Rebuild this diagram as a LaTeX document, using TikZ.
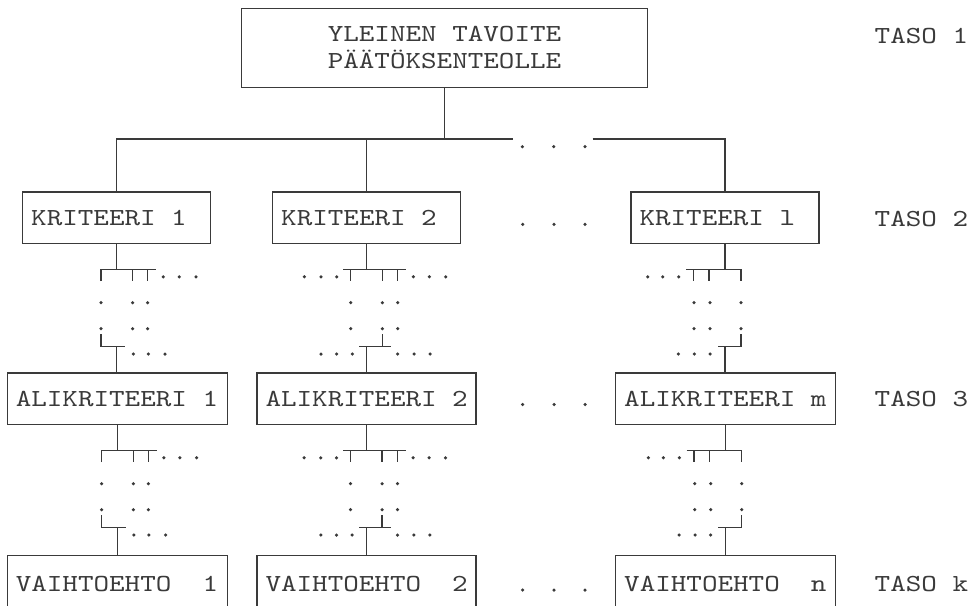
\documentclass[tikz,border=0pt]{standalone}
\usepackage{fontspec}
% typewriter face, widened to a Courier-like pitch
\newfontfamily\typefont{lmmono10-regular.otf}[FakeStretch=1.21]
\definecolor{ink}{HTML}{3A3A3A}

\tikzset{
  wire/.style={draw=ink, line width=1.25pt},
  basebox/.style={draw=ink, line width=1.25pt, text=ink, inner sep=0pt,
    outer sep=0pt, anchor=north west,
    font=\typefont\fontsize{24.5}{26.7}\selectfont},
  levelbox/.style={basebox, text height=16pt, text depth=0pt},
  tasolabel/.style={text=ink, inner sep=0pt, anchor=base west,
    font=\typefont\fontsize{24.5}{26.7}\selectfont},
}

% left-aligned box text of a fixed width
\newcommand\boxtext[2]{\makebox[#1pt][l]{\hspace{8.5pt}#2}}
\newcommand\dotat[2]{\fill[ink] (#1,#2) circle (1.75pt);}

% branching between two levels, first column: branches go to the right
\newcommand\linkfirst[2]{%
  \begin{scope}[shift={(#1.south)}]
    \coordinate (#1-bus) at (0,26.2);
    \coordinate (#1-j) at (0,103.3);
    \draw[wire] (-15.7,37.5) -- (-15.7,26.2) -- (39.3,26.2);
    \draw[wire] (16,26.2) -- (16,37.5);
    \draw[wire] (31,26.2) -- (31,37.5);
    \foreach \x in {46.6,62.6,79.3} {\dotat{\x}{33.3}}
    \foreach \x in {-15.7,16,31} {\dotat{\x}{59.2}\dotat{\x}{85.2}}
    \draw[wire] (-15.7,90.5) -- (-15.7,103.3) -- (8.3,103.3);
    \foreach \x in {16.6,31.6,48.3} {\dotat{\x}{110.5}}
  \end{scope}
  \draw[wire] (#1.south) -- (#1-bus);
  \draw[wire] (#1-j) -- (#1-j |- #2.north);}

% middle column: branches on both sides
\newcommand\linkmiddle[2]{%
  \begin{scope}[shift={(#1.south)}]
    \coordinate (#1-bus) at (0,26.2);
    \coordinate (#1-j) at (0,103.3);
    \draw[wire] (-23.4,26.2) -- (39,26.2);
    \foreach \x in {-16,15.6,31} {\draw[wire] (\x,26.2) -- (\x,37.5);}
    \foreach \x in {-62.4,-45.7,-30,46.6,62.6,79} {\dotat{\x}{33.3}}
    \foreach \x in {-16,15.6,31} {\dotat{\x}{59.2}\dotat{\x}{85.2}}
    \draw[wire] (15.6,90.5) -- (15.6,103.3);
    \draw[wire] (-7.4,103.3) -- (24,103.3);
    \foreach \x in {-45.7,-30,-14.4,31,47.3,63.3} {\dotat{\x}{110.5}}
  \end{scope}
  \draw[wire] (#1.south) -- (#1-bus);
  \draw[wire] (#1-j) -- (#1-j |- #2.north);}

% last column: branches go to the left
\newcommand\linklast[2]{%
  \begin{scope}[shift={(#1.south)}]
    \coordinate (#1-bus) at (0,26.2);
    \coordinate (#1-j) at (0,103.3);
    \draw[wire] (-39,26.2) -- (16,26.2) -- (16,37.5);
    \draw[wire] (-31.7,26.2) -- (-31.7,37.5);
    \draw[wire] (-16,26.2) -- (-16,37.5);
    \foreach \x in {-77.3,-62.3,-46.3} {\dotat{\x}{33.3}}
    \foreach \x in {-31,-15,16} {\dotat{\x}{59.2}\dotat{\x}{85.2}}
    \draw[wire] (16,90.5) -- (16,103.3) -- (-7.3,103.3);
    \foreach \x in {-46.7,-30.7,-15} {\dotat{\x}{110.5}}
  \end{scope}
  \draw[wire] (#1.south) -- (#1-bus);
  \draw[wire] (#1-j) -- (#1-j |- #2.north);}

\begin{document}
\begin{tikzpicture}[x=1pt, y=-1pt]
  \useasboundingbox (0,0) rectangle (977,605);
  \clip (0,0) rectangle (977,605);
  \fill[white] (0,0) rectangle (977,605);

  % level 1
  \node[basebox, minimum width=405.6pt, minimum height=79pt, align=center]
    (top) at (241.7,8.3) {YLEINEN TAVOITE\\PÄÄTÖKSENTEOLLE};

  % level 2
  \node[levelbox, minimum width=188pt, minimum height=51.5pt] (k1) at (22.7,192) {\boxtext{188}{KRITEERI 1}};
  \node[levelbox, minimum width=188pt, minimum height=51.5pt] (k2) at (272.7,192) {\boxtext{188}{KRITEERI 2}};
  \node[levelbox, minimum width=188pt, minimum height=51.5pt] (kl) at (631,192) {\boxtext{188}{KRITEERI l}};

  % level 3
  \node[levelbox, minimum width=220pt, minimum height=51.5pt] (a1) at (7.3,373) {\boxtext{220}{ALIKRITEERI 1}};
  \node[levelbox, minimum width=219pt, minimum height=51.5pt] (a2) at (257,373) {\boxtext{219}{ALIKRITEERI 2}};
  \node[levelbox, minimum width=220pt, minimum height=51.5pt] (am) at (615.7,373) {\boxtext{220}{ALIKRITEERI m}};

  % level k
  \node[levelbox, minimum width=220pt, minimum height=56pt] (v1) at (7.3,555.5) {\boxtext{220}{VAIHTOEHTO\ \ 1}};
  \node[levelbox, minimum width=219pt, minimum height=56pt] (v2) at (257,555.5) {\boxtext{219}{VAIHTOEHTO\ \ 2}};
  \node[levelbox, minimum width=220pt, minimum height=56pt] (vn) at (615.7,555.5) {\boxtext{220}{VAIHTOEHTO\ \ n}};

  % level names
  \node[tasolabel] (t1) at (874.5,43.3) {TASO 1};
  \node[tasolabel] (t2) at (874.5,226) {TASO 2};
  \node[tasolabel] (t3) at (874.5,406.5) {TASO 3};
  \node[tasolabel] (tk) at (874.5,591.7) {TASO k};

  % bus from the goal to the criteria
  \coordinate (busA) at (k1.north |- 0,139);
  \coordinate (busC) at (kl.north |- 0,139);
  \coordinate (gapL) at (513,139);
  \coordinate (gapR) at (592.7,139);
  \draw[wire] (top.south) -- (top.south |- busA);
  \draw[wire] (k1.north) -- (busA) -- (gapL);
  \draw[wire] (k2.north) -- (k2.north |- busA);
  \draw[wire] (gapR) -- (busC) -- (kl.north);
  \foreach \x in {522.3,553.7,585} {\dotat{\x}{146.7}}

  % omitted columns
  \foreach \y in {224.3,404.5,590} {
    \foreach \x in {522.7,554,585} {\dotat{\x}{\y}}
  }

  % branching between levels
  \linkfirst{k1}{a1}
  \linkmiddle{k2}{a2}
  \linklast{kl}{am}
  \linkfirst{a1}{v1}
  \linkmiddle{a2}{v2}
  \linklast{am}{vn}
\end{tikzpicture}
\end{document}
